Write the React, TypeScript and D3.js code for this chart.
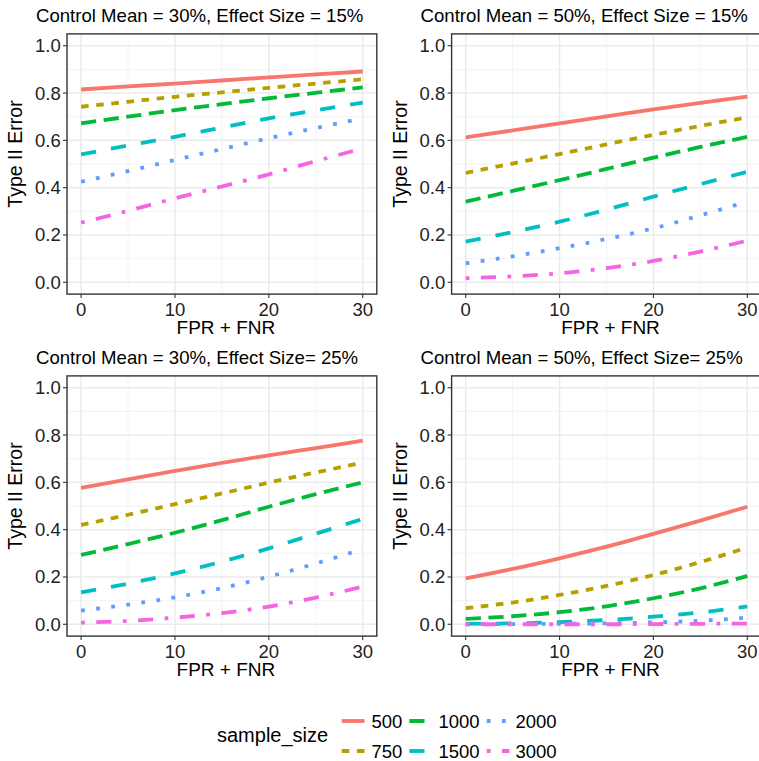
import React from "react";
import * as d3 from "d3";

const width = 759;
const height = 761;

// x values (FPR + FNR) where the curves were read
const xValues = [0, 5, 10, 15, 20, 25, 30];
const sampleSizes = ["500", "750", "1000", "1500", "2000", "3000"];
const colors = ["#F8766D", "#B79F00", "#00BA38", "#00BFC4", "#619CFF", "#F564E3"];
const dashUnits = [null, [2, 2], [4, 2], [4, 4], [1, 3], [1, 3, 4, 3]];

const panelTitles = [
  "Control Mean = 30%, Effect Size = 15%",
  "Control Mean = 50%, Effect Size = 15%",
  "Control Mean = 30%, Effect Size= 25%",
  "Control Mean = 50%, Effect Size= 25%",
];

// Type II error, one row per sample size
const cm30es15 = [
  [0.815, 0.828, 0.84, 0.853, 0.866, 0.879, 0.891],
  [0.742, 0.763, 0.784, 0.803, 0.822, 0.84, 0.858],
  [0.672, 0.7, 0.728, 0.753, 0.778, 0.801, 0.824],
  [0.541, 0.578, 0.615, 0.654, 0.693, 0.727, 0.759],
  [0.425, 0.47, 0.517, 0.563, 0.609, 0.652, 0.693],
  [0.252, 0.302, 0.355, 0.405, 0.456, 0.512, 0.566],
];
const cm50es15 = [
  [0.613, 0.642, 0.672, 0.701, 0.731, 0.758, 0.785],
  [0.462, 0.502, 0.542, 0.583, 0.623, 0.661, 0.697],
  [0.341, 0.386, 0.432, 0.479, 0.527, 0.572, 0.615],
  [0.172, 0.212, 0.256, 0.307, 0.362, 0.415, 0.467],
  [0.08, 0.11, 0.144, 0.183, 0.228, 0.283, 0.341],
  [0.017, 0.025, 0.038, 0.06, 0.09, 0.13, 0.176],
];
const cm30es25 = [
  [0.577, 0.613, 0.648, 0.682, 0.714, 0.745, 0.776],
  [0.42, 0.463, 0.508, 0.553, 0.599, 0.642, 0.683],
  [0.293, 0.339, 0.387, 0.44, 0.497, 0.55, 0.6],
  [0.135, 0.172, 0.215, 0.265, 0.321, 0.383, 0.445],
  [0.058, 0.083, 0.114, 0.153, 0.201, 0.257, 0.318],
  [0.007, 0.014, 0.028, 0.047, 0.075, 0.113, 0.159],
];
const cm50es25 = [
  [0.194, 0.234, 0.279, 0.328, 0.382, 0.438, 0.497],
  [0.068, 0.092, 0.124, 0.162, 0.208, 0.263, 0.325],
  [0.023, 0.034, 0.051, 0.076, 0.11, 0.152, 0.204],
  [0.002, 0.004, 0.009, 0.018, 0.032, 0.05, 0.075],
  [0.0, 0.001, 0.002, 0.004, 0.008, 0.015, 0.028],
  [0.0, 0.0, 0.0, 0.0, 0.001, 0.002, 0.003],
];
const panelData = [cm30es15, cm50es15, cm30es25, cm50es25];

const xTicks = [0, 10, 20, 30];
const xMinor = [5, 15, 25];
const yTicks = [0, 0.2, 0.4, 0.6, 0.8, 1.0];
const yMinor = [0.1, 0.3, 0.5, 0.7, 0.9];

const lineWidth = 3.8;
const font = "'Liberation Sans', Arial, Helvetica, sans-serif";

// panel boxes
const cols = [
  [67, 376.8],
  [451.6, 761.4],
];
const rows = [
  [33.9, 294.1],
  [375.9, 636.1],
];

const dash = (i: number) =>
  dashUnits[i] ? dashUnits[i]!.map((u) => u * lineWidth).join(" ") : undefined;

const Panel = ({ idx }: { idx: number }) => {
  const [x0, x1] = cols[idx % 2];
  const [y0, y1] = rows[Math.floor(idx / 2)];
  const x = d3.scaleLinear().domain([-1.5, 31.5]).range([x0, x1]);
  const y = d3.scaleLinear().domain([-0.05, 1.05]).range([y1, y0]);
  const line = d3
    .line<number>()
    .x((_, i) => x(xValues[i]))
    .y((d) => y(d))
    .curve(d3.curveMonotoneX);
  const cx = (x0 + x1) / 2;
  const cy = (y0 + y1) / 2;

  return (
    <g>
      <text x={x0 - 31} y={y0 - 12} fontSize={18.6} fill="#000">
        {panelTitles[idx]}
      </text>
      {xMinor.map((t) => (
        <line key={"xm" + t} x1={x(t)} x2={x(t)} y1={y0} y2={y1} stroke="#F2F2F2" strokeWidth={0.9} />
      ))}
      {yMinor.map((t) => (
        <line key={"ym" + t} x1={x0} x2={x1} y1={y(t)} y2={y(t)} stroke="#F2F2F2" strokeWidth={0.9} />
      ))}
      {xTicks.map((t) => (
        <line key={"xg" + t} x1={x(t)} x2={x(t)} y1={y0} y2={y1} stroke="#EBEBEB" strokeWidth={1.5} />
      ))}
      {yTicks.map((t) => (
        <line key={"yg" + t} x1={x0} x2={x1} y1={y(t)} y2={y(t)} stroke="#EBEBEB" strokeWidth={1.5} />
      ))}
      {panelData[idx].map((vals, s) => (
        <path
          key={s}
          d={line(vals) || ""}
          fill="none"
          stroke={colors[s]}
          strokeWidth={lineWidth}
          strokeDasharray={dash(s)}
        />
      ))}
      <rect x={x0} y={y0} width={x1 - x0} height={y1 - y0} fill="none" stroke="#333333" strokeWidth={1.4} />
      {xTicks.map((t) => (
        <g key={"xt" + t}>
          <line x1={x(t)} x2={x(t)} y1={y1} y2={y1 + 4} stroke="#333333" strokeWidth={1.1} />
          <text x={x(t)} y={y1 + 21.4} fontSize={18.5} textAnchor="middle" fill="#222">
            {t}
          </text>
        </g>
      ))}
      {yTicks.map((t) => (
        <g key={"yt" + t}>
          <line x1={x0 - 4} x2={x0} y1={y(t)} y2={y(t)} stroke="#333333" strokeWidth={1.1} />
          <text x={x0 - 6.3} y={y(t) + 6.5} fontSize={18.5} textAnchor="end" fill="#222">
            {d3.format(".1f")(t)}
          </text>
        </g>
      ))}
      <text x={cx + 4} y={y1 + 40} fontSize={19} textAnchor="middle" fill="#000">
        FPR + FNR
      </text>
      <text
        transform={`translate(${x0 - 45},${cy - 10}) rotate(-90)`}
        fontSize={19.5}
        textAnchor="middle"
        fill="#000"
      >
        Type II Error
      </text>
    </g>
  );
};

const Legend = () => {
  const keyX = [341.7, 409.3, 486.7];
  const labelX = [371.5, 438.5, 515.5];
  const rowY = [721, 751];
  const keyLen = 22.8;
  return (
    <g>
      <text x={217} y={742} fontSize={20} fill="#000">
        sample_size
      </text>
      {sampleSizes.map((s, i) => {
        const c = Math.floor(i / 2);
        const r = i % 2;
        return (
          <g key={s}>
            <line
              x1={keyX[c]}
              x2={keyX[c] + keyLen}
              y1={rowY[r]}
              y2={rowY[r]}
              stroke={colors[i]}
              strokeWidth={lineWidth}
              strokeDasharray={dash(i)}
            />
            <text x={labelX[c]} y={rowY[r] + 6.6} fontSize={18.5} fill="#000">
              {s}
            </text>
          </g>
        );
      })}
    </g>
  );
};

export default function App() {
  return (
    <svg
      width={width}
      height={height}
      style={{ position: "absolute", left: 0, top: 0, background: "#fff" }}
      fontFamily={font}
    >
      <rect width={width} height={height} fill="#fff" />
      {[0, 1, 2, 3].map((i) => (
        <Panel key={i} idx={i} />
      ))}
      <Legend />
    </svg>
  );
}
